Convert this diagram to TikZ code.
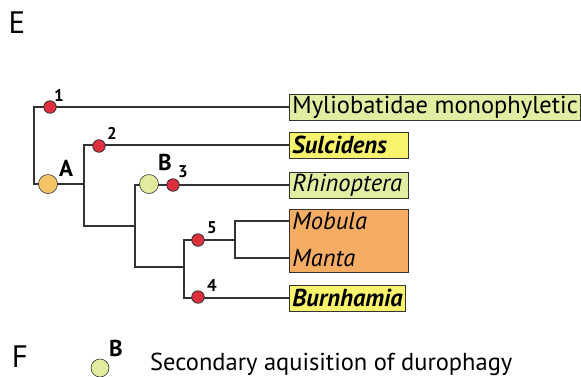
\documentclass[tikz,border=0pt]{standalone}
\usepackage{fontspec}
\setmainfont{PT Sans}
\usepackage{xcolor}
\usepackage{tikz}
\usetikzlibrary{positioning, backgrounds}
\definecolor{branchgrey}{HTML}{333333}
\definecolor{synred}{HTML}{DE2F3E}
\definecolor{durorange}{HTML}{F3C46A}
\definecolor{durlime}{HTML}{E3EB9E}
\definecolor{limebox}{HTML}{E1EEA2}
\definecolor{yellowbox}{HTML}{F8F36C}
\definecolor{orangebox}{HTML}{F5AC63}

\begin{document}
\begin{tikzpicture}[
  x=1pt, y=-1pt,
  every node/.style={text=black},
  branch/.style={draw=branchgrey, line width=1.8pt},
  synapo/.style={
    circle,
    draw=branchgrey,
    line width=0.8pt,
    fill=synred,
    minimum size=12.5pt,
    inner sep=0pt,
  },
  state/.style={
    circle,
    draw=branchgrey,
    line width=0.6pt,
    minimum size=19pt,
    inner sep=0pt,
  },
  numlabel/.style={font=\fontsize{17}{17}\selectfont\bfseries, inner sep=0pt},
  letlabel/.style={font=\fontsize{23}{23}\selectfont\bfseries, inner sep=0pt},
  taxon/.style={
    draw=branchgrey,
    line width=0.9pt,
    anchor=west,
    minimum height=26pt,
    inner xsep=3pt,
    inner ysep=0pt,
    font=\fontsize{24.5}{24.5}\selectfont,
  },
  panel/.style={font=\fontsize{31}{31}\selectfont, inner sep=0pt},
]
  \useasboundingbox (0,0) rectangle (581,376);

  \node[panel] (panelE) at (17,23) {E};
  \node[panel] (panelF) at (20,357) {F};

  % taxa
  \node[taxon, fill=limebox] (myl) at (289,107) {Myliobatidae monophyletic};
  \node[taxon, fill=yellowbox, minimum width=119pt, text width=113pt] (sul) at (289,145) {\bfseries\itshape Sulcidens};
  \node[taxon, fill=limebox, minimum width=119pt, text width=113pt] (rhi) at (289,185) {\itshape Rhinoptera};
  \node[taxon, fill=orangebox, minimum width=119pt, minimum height=63pt, anchor=north west] (mobmanta) at (289,209) {};
  \node[taxon, draw=none, font=\fontsize{24.5}{24.5}\selectfont\itshape] (mob) at (289,221) {Mobula};
  \node[taxon, draw=none, font=\fontsize{24.5}{24.5}\selectfont\itshape] (man) at (289,258) {Manta};
  \node[taxon, fill=yellowbox] (bur) at (289,298) {\bfseries\itshape Burnhamia};

  % tree
  \coordinate (r1) at (34,107);
  \coordinate (r2) at (34,184);
  \coordinate (i1) at (84,184);
  \coordinate (i1top) at (84,145);
  \coordinate (i1bot) at (84,226);
  \coordinate (i2) at (135,226);
  \coordinate (i2top) at (135,185);
  \coordinate (i2bot) at (135,267);
  \coordinate (i3) at (184,267);
  \coordinate (i3top) at (184,240);
  \coordinate (i3bot) at (184,298);
  \coordinate (i4) at (235,240);
  \coordinate (i4top) at (235,221);
  \coordinate (i4bot) at (235,258);

  \draw[branch] (myl.west) -- (r1) -- (r2) -- (i1);
  \draw[branch] (sul.west) -- (i1top) -- (i1bot) -- (i2);
  \draw[branch] (rhi.west) -- (i2top) -- (i2bot) -- (i3);
  \draw[branch] (bur.west) -- (i3bot) -- (i3top) -- (i4);
  \draw[branch] (mob.west) -- (i4top) -- (i4bot) -- (man.west);

  % character states
  \node[state, fill=durorange] (stA) at (48,184) {};
  \node[letlabel] at (66,168) {A};
  \node[state, fill=durlime] (stB) at (149,184) {};
  \node[letlabel] at (165,162) {B};

  \node[synapo] (n1) at (50,107) {};
  \node[numlabel] at (59,95) {1};
  \node[synapo] (n2) at (99,146) {};
  \node[numlabel] at (112,133) {2};
  \node[synapo] (n3) at (173,185) {};
  \node[numlabel] at (183,172) {3};
  \node[synapo] (n5) at (198,240) {};
  \node[numlabel] at (212,228) {5};
  \node[synapo] (n4) at (198,297) {};
  \node[numlabel] at (212,285) {4};

  % legend
  \node[state, fill=durlime, minimum size=18pt] (legB) at (100,368) {};
  \node[letlabel] at (116,348) {B};
  \node[anchor=base west, inner sep=0pt, font=\fontsize{24.5}{24.5}\selectfont] (legtext) at (150,370) {Secondary aquisition of durophagy};
\end{tikzpicture}
\end{document}
